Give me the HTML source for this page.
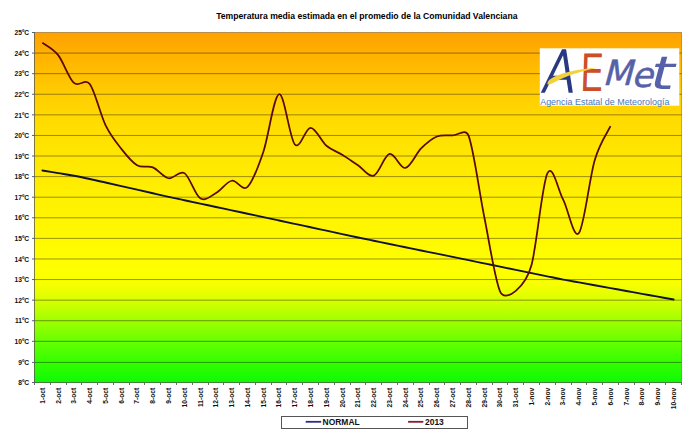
<!DOCTYPE html>
<html lang="es"><head><meta charset="utf-8">
<title>Temperatura media estimada en el promedio de la Comunidad Valenciana</title>
<style>
html,body{margin:0;padding:0;background:#fff;}
body{width:690px;height:433px;overflow:hidden;}
svg{display:block;}
text{font-family:"Liberation Sans",sans-serif;}
.b{font-weight:bold;}
.lt{font-family:"DejaVu Sans Light","DejaVu Sans","Liberation Sans",sans-serif;font-weight:200;}
.dj{font-family:"DejaVu Sans","Liberation Sans",sans-serif;}
</style></head><body>
<svg width="690" height="433" viewBox="0 0 690 433">
<defs>
<linearGradient id="bg" x1="0" y1="0" x2="0" y2="1">
<stop offset="0.0000" stop-color="#FFA100"/>
<stop offset="0.0912" stop-color="#FFB800"/>
<stop offset="0.1766" stop-color="#FFCD00"/>
<stop offset="0.2564" stop-color="#FFDC00"/>
<stop offset="0.3248" stop-color="#FFE400"/>
<stop offset="0.4786" stop-color="#FFF100"/>
<stop offset="0.6781" stop-color="#FFFF00"/>
<stop offset="0.7179" stop-color="#F8FF00"/>
<stop offset="0.7692" stop-color="#D4FF00"/>
<stop offset="0.8205" stop-color="#A2FF00"/>
<stop offset="0.8803" stop-color="#68FF00"/>
<stop offset="0.9402" stop-color="#34FF00"/>
<stop offset="1.0000" stop-color="#0EFA06"/>
</linearGradient>
</defs>
<rect width="690" height="433" fill="#fff"/>
<rect x="34.0" y="32.0" width="648.0" height="351.0" fill="url(#bg)"/>
<path d="M35.0,362.41H682.0M35.0,341.32H682.0M35.0,320.74H682.0M35.0,300.15H682.0M35.0,279.56H682.0M35.0,258.97H682.0M35.0,238.38H682.0M35.0,217.79H682.0M35.0,197.21H682.0M35.0,176.62H682.0M35.0,156.03H682.0M35.0,135.44H682.0M35.0,114.85H682.0M35.0,94.26H682.0M35.0,73.68H682.0M35.0,53.09H682.0" stroke="#000" stroke-opacity="0.4" stroke-width="1" fill="none"/>
<path d="M34.5,32.5H681.5V382.5" stroke="#808080" stroke-opacity="0.55" stroke-width="1" fill="none" shape-rendering="crispEdges"/>
<path d="M34.5,32.5V382.5H682.0" stroke="#555548" stroke-opacity="0.75" stroke-width="1" fill="none" shape-rendering="crispEdges"/>
<path d="M32.0,382.50H35.0M32.0,362.41H35.0M32.0,341.32H35.0M32.0,320.74H35.0M32.0,300.15H35.0M32.0,279.56H35.0M32.0,258.97H35.0M32.0,238.38H35.0M32.0,217.79H35.0M32.0,197.21H35.0M32.0,176.62H35.0M32.0,156.03H35.0M32.0,135.44H35.0M32.0,114.85H35.0M32.0,94.26H35.0M32.0,73.68H35.0M32.0,53.09H35.0M32.0,32.50H35.0" stroke="#5a6070" stroke-width="1" fill="none"/>
<path d="M34.5,382.5v2.5M50.5,382.5v2.5M66.5,382.5v2.5M81.5,382.5v2.5M97.5,382.5v2.5M113.5,382.5v2.5M129.5,382.5v2.5M144.5,382.5v2.5M160.5,382.5v2.5M176.5,382.5v2.5M192.5,382.5v2.5M208.5,382.5v2.5M223.5,382.5v2.5M239.5,382.5v2.5M255.5,382.5v2.5M271.5,382.5v2.5M286.5,382.5v2.5M302.5,382.5v2.5M318.5,382.5v2.5M334.5,382.5v2.5M350.5,382.5v2.5M365.5,382.5v2.5M381.5,382.5v2.5M397.5,382.5v2.5M413.5,382.5v2.5M429.5,382.5v2.5M444.5,382.5v2.5M460.5,382.5v2.5M476.5,382.5v2.5M492.5,382.5v2.5M507.5,382.5v2.5M523.5,382.5v2.5M539.5,382.5v2.5M555.5,382.5v2.5M571.5,382.5v2.5M586.5,382.5v2.5M602.5,382.5v2.5M618.5,382.5v2.5M634.5,382.5v2.5M649.5,382.5v2.5M665.5,382.5v2.5M681.5,382.5v2.5" stroke="#6e6e6e" stroke-width="1" fill="none" shape-rendering="crispEdges"/>
<path d="M42.39,170.44 C45.02,170.88 52.91,172.19 58.17,173.07 C63.43,173.95 68.69,174.72 73.95,175.70 C79.21,176.68 84.47,177.81 89.73,178.95 C94.99,180.08 100.25,181.33 105.51,182.53 C110.77,183.72 116.03,184.91 121.29,186.11 C126.55,187.30 131.81,188.49 137.07,189.69 C142.33,190.88 147.59,192.07 152.85,193.27 C158.11,194.46 163.37,195.69 168.63,196.85 C173.89,198.01 179.15,199.12 184.41,200.24 C189.67,201.37 194.93,202.49 200.20,203.62 C205.46,204.74 210.72,205.87 215.98,206.99 C221.24,208.12 226.50,209.24 231.76,210.37 C237.02,211.49 242.28,212.62 247.54,213.74 C252.80,214.87 258.06,215.99 263.32,217.12 C268.58,218.25 273.84,219.38 279.10,220.51 C284.36,221.64 289.62,222.77 294.88,223.90 C300.14,225.03 305.40,226.16 310.66,227.29 C315.92,228.42 321.18,229.55 326.44,230.68 C331.70,231.81 336.96,232.94 342.22,234.07 C347.48,235.21 352.74,236.35 358.00,237.47 C363.26,238.58 368.52,239.66 373.78,240.75 C379.04,241.83 384.30,242.90 389.56,243.98 C394.82,245.06 400.08,246.14 405.34,247.22 C410.60,248.30 415.86,249.38 421.12,250.46 C426.38,251.54 431.64,252.61 436.90,253.69 C442.16,254.77 447.42,255.85 452.68,256.93 C457.94,258.01 463.20,259.09 468.46,260.17 C473.72,261.24 478.98,262.32 484.24,263.40 C489.50,264.48 494.76,265.55 500.02,266.63 C505.28,267.71 510.54,268.79 515.80,269.86 C521.07,270.94 526.33,272.02 531.59,273.09 C536.85,274.17 542.11,275.25 547.37,276.33 C552.63,277.40 557.89,278.54 563.15,279.56 C568.41,280.57 573.67,281.46 578.93,282.41 C584.19,283.36 589.45,284.31 594.71,285.26 C599.97,286.22 605.23,287.17 610.49,288.12 C615.75,289.07 621.01,290.02 626.27,290.97 C631.53,291.92 636.79,292.87 642.05,293.82 C647.31,294.77 652.57,295.73 657.83,296.68 C663.09,297.63 670.98,299.05 673.61,299.53" stroke="#12122e" stroke-width="1.9" fill="none" stroke-linecap="round" stroke-linejoin="round"/>
<path d="M42.39,42.79 C45.02,44.85 52.91,48.46 58.17,55.15 C63.43,61.84 68.69,78.14 73.95,82.94 C79.21,87.75 85.00,77.64 89.73,83.97 C94.99,91.00 100.25,114.34 105.51,125.15 C110.77,135.96 116.03,142.13 121.29,148.82 C126.55,155.51 131.81,162.21 137.07,165.29 C142.33,168.38 147.59,165.19 152.85,167.35 C158.11,169.51 163.37,177.30 168.63,178.26 C173.89,179.23 179.15,169.79 184.41,173.12 C189.67,176.45 194.93,194.91 200.20,198.24 C205.46,201.56 210.72,196.00 215.98,193.09 C221.24,190.17 226.50,181.76 231.76,180.74 C237.02,179.71 242.28,191.72 247.54,186.91 C252.80,182.11 258.06,167.35 263.32,151.91 C268.58,136.47 273.84,95.50 279.10,94.26 C284.36,93.03 289.62,138.91 294.88,144.50 C300.14,150.09 305.40,127.62 310.66,127.82 C315.92,128.03 321.18,141.24 326.44,145.74 C331.70,150.23 336.96,151.53 342.22,154.79 C347.48,158.05 352.74,161.83 358.00,165.29 C363.26,168.76 368.52,177.48 373.78,175.59 C379.04,173.70 384.30,155.24 389.56,153.97 C394.82,152.70 400.08,168.90 405.34,167.97 C410.60,167.04 415.86,153.66 421.12,148.41 C426.38,143.16 431.64,138.63 436.90,136.47 C442.16,134.31 447.42,135.61 452.68,135.44 C457.94,135.27 465.61,128.09 468.46,135.44 C473.72,149.00 478.98,190.79 484.24,216.76 C489.50,242.74 494.76,278.94 500.02,291.29 C503.12,298.56 510.54,295.31 515.80,290.88 C521.07,286.46 527.63,279.48 531.59,264.74 C536.85,245.14 542.11,184.17 547.37,173.32 C552.63,162.48 557.89,189.73 563.15,199.68 C568.41,209.63 573.67,239.62 578.93,233.03 C584.19,226.44 589.45,177.96 594.71,160.15 C599.97,142.34 607.86,131.84 610.49,126.18" stroke="#5a0808" stroke-width="1.75" fill="none" stroke-linecap="butt" stroke-linejoin="round"/>
<text class="b" x="366.8" y="19.4" font-size="8.65" text-anchor="middle" fill="#000">Temperatura media estimada en el promedio de la Comunidad Valenciana</text>
<g class="b" font-size="7.6" text-anchor="end" fill="#111">
<text transform="translate(29.2,35.1) scale(0.88,1)">25ºC</text>
<text transform="translate(29.2,55.7) scale(0.88,1)">24ºC</text>
<text transform="translate(29.2,76.3) scale(0.88,1)">23ºC</text>
<text transform="translate(29.2,96.9) scale(0.88,1)">22ºC</text>
<text transform="translate(29.2,117.5) scale(0.88,1)">21ºC</text>
<text transform="translate(29.2,138.0) scale(0.88,1)">20ºC</text>
<text transform="translate(29.2,158.6) scale(0.88,1)">19ºC</text>
<text transform="translate(29.2,179.2) scale(0.88,1)">18ºC</text>
<text transform="translate(29.2,199.8) scale(0.88,1)">17ºC</text>
<text transform="translate(29.2,220.4) scale(0.88,1)">16ºC</text>
<text transform="translate(29.2,241.0) scale(0.88,1)">15ºC</text>
<text transform="translate(29.2,261.6) scale(0.88,1)">14ºC</text>
<text transform="translate(29.2,282.2) scale(0.88,1)">13ºC</text>
<text transform="translate(29.2,302.7) scale(0.88,1)">12ºC</text>
<text transform="translate(29.2,323.3) scale(0.88,1)">11ºC</text>
<text transform="translate(29.2,343.9) scale(0.88,1)">10ºC</text>
<text transform="translate(29.2,364.5) scale(0.88,1)">9ºC</text>
<text transform="translate(29.2,385.1) scale(0.88,1)">8ºC</text>
</g>
<g class="b" font-size="7.6" text-anchor="end" fill="#111">
<text transform="translate(44.7,387.8) rotate(-90) scale(0.88,1)">1-oct</text>
<text transform="translate(60.5,387.8) rotate(-90) scale(0.88,1)">2-oct</text>
<text transform="translate(76.3,387.8) rotate(-90) scale(0.88,1)">3-oct</text>
<text transform="translate(92.0,387.8) rotate(-90) scale(0.88,1)">4-oct</text>
<text transform="translate(107.8,387.8) rotate(-90) scale(0.88,1)">5-oct</text>
<text transform="translate(123.6,387.8) rotate(-90) scale(0.88,1)">6-oct</text>
<text transform="translate(139.4,387.8) rotate(-90) scale(0.88,1)">7-oct</text>
<text transform="translate(155.2,387.8) rotate(-90) scale(0.88,1)">8-oct</text>
<text transform="translate(170.9,387.8) rotate(-90) scale(0.88,1)">9-oct</text>
<text transform="translate(186.7,387.8) rotate(-90) scale(0.88,1)">10-oct</text>
<text transform="translate(202.5,387.8) rotate(-90) scale(0.88,1)">11-oct</text>
<text transform="translate(218.3,387.8) rotate(-90) scale(0.88,1)">12-oct</text>
<text transform="translate(234.1,387.8) rotate(-90) scale(0.88,1)">13-oct</text>
<text transform="translate(249.8,387.8) rotate(-90) scale(0.88,1)">14-oct</text>
<text transform="translate(265.6,387.8) rotate(-90) scale(0.88,1)">15-oct</text>
<text transform="translate(281.4,387.8) rotate(-90) scale(0.88,1)">16-oct</text>
<text transform="translate(297.2,387.8) rotate(-90) scale(0.88,1)">17-oct</text>
<text transform="translate(313.0,387.8) rotate(-90) scale(0.88,1)">18-oct</text>
<text transform="translate(328.7,387.8) rotate(-90) scale(0.88,1)">19-oct</text>
<text transform="translate(344.5,387.8) rotate(-90) scale(0.88,1)">20-oct</text>
<text transform="translate(360.3,387.8) rotate(-90) scale(0.88,1)">21-oct</text>
<text transform="translate(376.1,387.8) rotate(-90) scale(0.88,1)">22-oct</text>
<text transform="translate(391.9,387.8) rotate(-90) scale(0.88,1)">23-oct</text>
<text transform="translate(407.6,387.8) rotate(-90) scale(0.88,1)">24-oct</text>
<text transform="translate(423.4,387.8) rotate(-90) scale(0.88,1)">25-oct</text>
<text transform="translate(439.2,387.8) rotate(-90) scale(0.88,1)">26-oct</text>
<text transform="translate(455.0,387.8) rotate(-90) scale(0.88,1)">27-oct</text>
<text transform="translate(470.8,387.8) rotate(-90) scale(0.88,1)">28-oct</text>
<text transform="translate(486.5,387.8) rotate(-90) scale(0.88,1)">29-oct</text>
<text transform="translate(502.3,387.8) rotate(-90) scale(0.88,1)">30-oct</text>
<text transform="translate(518.1,387.8) rotate(-90) scale(0.88,1)">31-oct</text>
<text transform="translate(533.9,387.8) rotate(-90) scale(0.88,1)">1-nov</text>
<text transform="translate(549.7,387.8) rotate(-90) scale(0.88,1)">2-nov</text>
<text transform="translate(565.4,387.8) rotate(-90) scale(0.88,1)">3-nov</text>
<text transform="translate(581.2,387.8) rotate(-90) scale(0.88,1)">4-nov</text>
<text transform="translate(597.0,387.8) rotate(-90) scale(0.88,1)">5-nov</text>
<text transform="translate(612.8,387.8) rotate(-90) scale(0.88,1)">6-nov</text>
<text transform="translate(628.6,387.8) rotate(-90) scale(0.88,1)">7-nov</text>
<text transform="translate(644.3,387.8) rotate(-90) scale(0.88,1)">8-nov</text>
<text transform="translate(660.1,387.8) rotate(-90) scale(0.88,1)">9-nov</text>
<text transform="translate(675.9,387.8) rotate(-90) scale(0.88,1)">10-nov</text>
</g>
<rect x="281.5" y="416.5" width="185.5" height="12" fill="#fff" stroke="#555" stroke-width="1" shape-rendering="crispEdges"/>
<path d="M305.7,421.8H321.2" stroke="#2a2a96" stroke-width="1.8"/>
<text class="b" transform="translate(322.6,425.1) scale(0.88,1)" font-size="9.6" fill="#111">NORMAL</text>
<path d="M408.1,421.8H423.3" stroke="#861c2a" stroke-width="1.8"/>
<text class="b" transform="translate(425.0,425.1) scale(0.88,1)" font-size="9.6" fill="#111">2013</text>
<g>
<rect x="539.8" y="48.3" width="139.5" height="57.4" fill="#fff"/>
<g><text class="lt" transform="translate(540.4,92.2) skewX(-9.5) scale(0.84,1)" font-size="57.5" fill="#2a3a82" stroke="#2a3a82" stroke-width="1.7">A</text><text class="lt" transform="translate(578.9,90.0) skewX(-2) scale(0.8,1)" font-size="49" fill="#cc4e28" stroke="#cc4e28" stroke-width="1.8">E</text><text class="dj" transform="translate(602.2,84.8) skewX(-15)" font-size="34.5" fill="#5661a8" stroke="#5661a8" stroke-width="0.5">M<tspan dy="2.2">e</tspan></text><text class="dj" transform="translate(647.6,88.8) skewX(-15) scale(1.32,1)" font-size="46" fill="#5661a8">t</text></g>
<path d="M547.6,84.6 C546.6,80.6 551,78 558,75.2 C570,70.6 585,68.4 597.3,67.8 C586,70.4 573,73.6 562,78.4 C555.5,81.4 550.5,84.8 547.6,84.6Z" fill="#f2d23c"/>
<text x="540.2" y="105.0" font-size="8.95" fill="#4b78b4">Agencia Estatal de Meteorología</text>
</g>
</svg>
</body></html>
